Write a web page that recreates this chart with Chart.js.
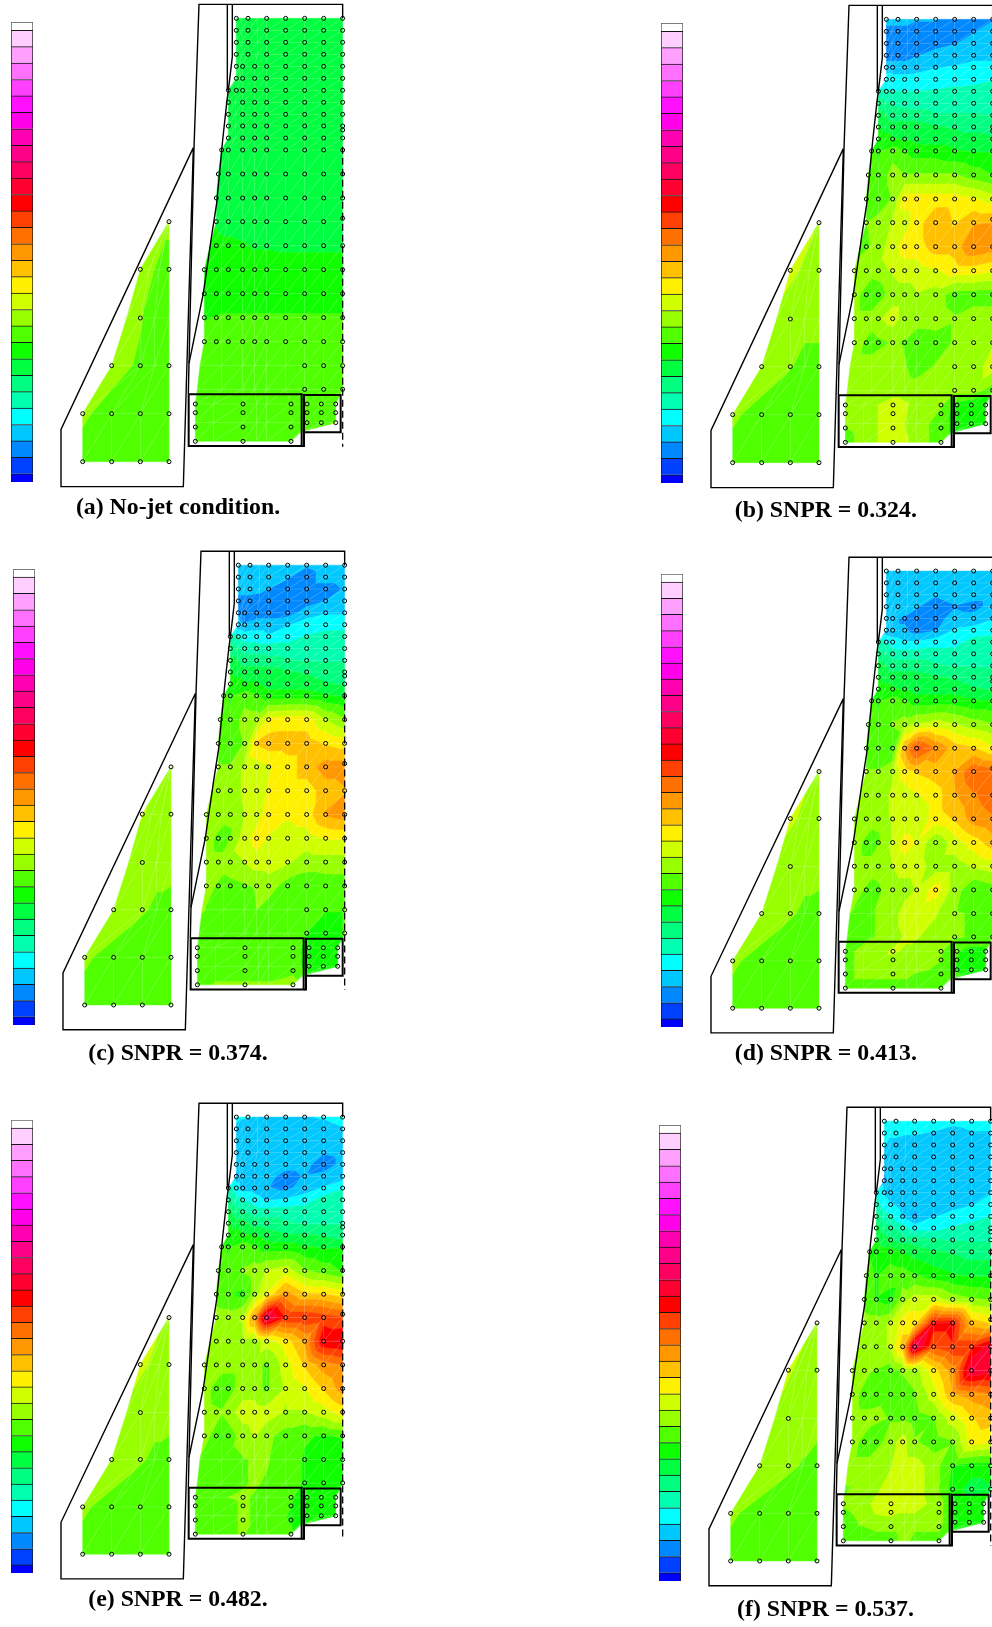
<!DOCTYPE html>
<html lang="en">
<head>
<meta charset="UTF-8">
<title>SNPR contour panels</title>
<script src="https://cdn.jsdelivr.net/npm/chart.js"></script>
<style>
    html, body { margin: 0; padding: 0; background: #fff; overflow: hidden; }
    #page { position: relative; width: 992px; height: 1627px; overflow: hidden; }
    canvas { position: absolute; }
    .cap { position: absolute; width: 340px; margin-left: -170px; text-align: center; white-space: nowrap;
           font: bold 23.8px "Liberation Serif", serif; color: #000; line-height: 26px; margin-top: -13px; }
</style>
</head>
<body>
<div id="page"></div>
<script>
// colour bands, bottom of the colour bar first
const bandColors = ['#0000ff','#0040ff','#0088ff','#00c8ff','#00ffff','#00ffb0','#00ff80','#00ff40','#10ff00','#50ff00',
    '#98ff00','#d0ff00','#fff000','#ffc000','#ff9800','#ff7000','#ff4000','#ff0000','#ff0030','#ff0060','#ff0088',
    '#ff00b0','#ff00e8','#ff10ff','#ff40ff','#ff70ff','#ffa0ff','#ffd0ff','#ffffff'];
const bandSizes = [0.5,1,1,1,1,1,1,1,1,1,1,1,1,1,1,1,1,1,1,1,1,1,1,1,1,1,1,1,0.5];

// measurement holes
const topCols = [709,744,800,857,914,971,1028];
const midA = [709,728,764,800,857,914,971,1028];
const midB = [685,728,764,800,857,914,971,1028];
const holeRows = [
    [55,topCols],[91,topCols],[127,topCols],[163,topCols],[199,midA],[235,midA],
    [271,[685,709,728,764,800,857,914,971,1028]],[307,midB],[343,midB],[378,midB],[414,midB],
    [450,[665,685,728,764,800,857,914,971,1028]],[522,[655,685,728,764,800,857,914,971,1028]],
    [594,[649,685,728,764,800,857,914,971,1028]],[665,[649,685,728,764,800,857,914,971]],
    [737,[649,685,728,764,800,857,914,971,1028]],
    [809,[613,649,685,728,764,800,857,914,971,1028]],[881,[613,649,685,728,764,800,857,914,971,1028]],
    [953,[613,649,685,728,764,800,857,914,971,1028]],[1025,[613,649,685,728,764,800,857,914,971,1028]],
    [1097,[914,971,1028]],[1168,[914,971,1028]],[390,[1028]],[655,[1028]],
    [1212,[586,729,873,921,964,1007]],[1238,[586,729,873,921,964,1007]],[1268,[921,964,1007]],
    [1281,[586,729,873]],[1324,[586,729,873]],
    [665,[507]],[808,[421,507]],[954,[421]],[1097,[335,421,507]],[1241,[248,335,421,507]],[1385,[248,335,421,507]]
];

// mesh of the main field
const c5 = [800,857,914,971,1028];
const mainX = [
    [709,726,744,772,...c5],[709,726,744,772,...c5],[709,726,744,772,...c5],[709,726,744,772,...c5],
    [709,718,728,764,...c5],[709,718,728,764,...c5],[685,709,728,764,...c5],
    [685,706,728,764,...c5],[685,706,728,764,...c5],[685,706,728,764,...c5],[685,706,728,764,...c5],
    [665,685,728,764,...c5],[655,685,728,764,...c5],[649,685,728,764,...c5],[649,685,728,764,...c5],
    [630,665,728,764,...c5],[613,665,728,764,...c5],[613,665,728,764,...c5],[613,665,728,764,...c5],
    [613,665,728,764,...c5],[600,665,728,764,...c5],[592,665,728,764,...c5],
    [586,640,729,770,800,873,921,964,1007],[586,640,729,770,800,873,921,964,1007],
    [586,640,729,770,800,873,900,921,985]
];
const mainYs = [55,91,127,163,199,235,271,307,343,378,414,450,522,594,665,737,809,881,953,1025,1097,1168,1212,1268,1324];
const mainLastY = [1324,1324,1324,1324,1324,1324,1298,1290,1268];

// mesh of the wing field
const wingX = [[507,507,507,507],[421,448,478,507],[380,421,464,507],[335,421,464,507],[248,335,421,507],[248,335,421,507]];
const wingYs = [665,808,954,1097,1241,1385];

// band level at each mesh node
const mainA = [
    [7,7,7,7,7,7,7,7,7],[7,7,7,7,7,7,7,7,7],[7,7,7,7,7,7,7,7,7],[7,7,7,7,7,7,7,7,7],
    [7,7,7,7,7,7,7,7,7],[7,7,7,7,7,7,7,7,7],[7,7,7,7,7,7,7,7,7],[7,7,7,7,7,7,7,7,7],
    [7,7,7,7,7,7,7,7,7],[7,7,7,7,7,7,7,7,7],[7,7,7,7,7,7,7,7,7],[7,7,7,7,7,7,7,7,7],
    [7,7,7,7,7,7,7,7,7],[7,7,7,7,7,7,7,7,7],[7.4,7,7,7,7,7,7,7,7],
    [8,7.8,7.6,7.4,7.4,7.3,7.3,7.3,7.3],[8,8,8,8,8,8,8,8,8],[8,8,8,8,8,8,8,8,8],
    [8.4,8.6,8.6,8.6,8.6,8.6,8.6,8.6,8.6],[9,9,9,9,9,9,9,9,9],[9,9,9,9,9,9,9,9,9],[9,9,9,9,9,9,9,9,9],
    [9,9,9,9,9,9,9,9,9],[9,9,9,9,9,9,9,9,9.6],[9,9,9,9,9,9,9,9,9.4]
];
const mainB = [
    [3,3,3,3,2.6,2.6,2,2,2.4],[2,2,2,2,2,2,2,2.4,3],[2,2,2,2,2,2,2.4,3,3],[2,2,2,2,2.4,3,3,3,3],
    [3,3,3,3,3,3.4,3.6,4,4],[4,4,3.8,3.8,4,4,4,4,4.4],[4.6,4.6,4.5,4.5,4.5,4.6,4.8,5,5],
    [6,5.6,5.4,5.2,5,5,5,5,5],[7,6.6,6,6,6,5.6,5.6,5.6,5.5],[7.6,7,7,7,7,6.6,6.4,6,6],
    [8,8,7.6,7.4,7.2,7,7,7,6.6],[8.6,8.4,9,8.5,8,8,7.6,7.4,7.4],[9,8.6,10,9.5,9.6,9.6,9.6,9,8.5],
    [9,8.6,9.6,12,12,12,12,11.6,11],[9.5,10,10.6,11,12,13.4,12.4,13.4,13.5],[9,9.6,11,12,12,13,13,14.4,14],
    [10,10,10.6,11,11,11.4,12,12,11.6],[10,8.4,10,10,10.4,10,9,9,9],[10,10,11,10,10,10,9.6,10,10],
    [10,9,9.6,9.4,8.8,9,9.6,10.4,10.4],[10,10,10,9.6,9,9.6,10,10,11],[9.6,10,10,10,10,10,10,10,9],
    [9.6,10,11,10.6,10,9.6,8,7.6,8],[9.6,10,11,10.4,10,9,8,7.6,8],[9,10,11,10.6,10,9,8.4,8,8]
];
const mainC = [
    [3,3,3,3,3,3,2.6,3,3],[3,3,3,3,3,2.6,2,3,3],[3,3,3,2.8,2.5,2,2,2,2.6],[2,2,2,2,1.6,2,2,2.5,3],
    [2.4,2,2,2,2,2,3,3.4,3.4],[3,2.6,2.6,3,3,3.4,4,4,4],[5,4.6,4,4,3.6,4,4.6,5,5],
    [6,5.6,5,5,5,5,5,5,5.4],[7,6.6,6,6,5.8,5.6,5.4,5.4,5.4],[7.6,7,7,7,7,6.6,6.4,6,6],
    [8,8,7.6,7.6,7,7,7,6.6,6.4],[8.6,8.4,9,8.6,8,8,8,7.6,7.4],[9,8.6,10,10,11.8,12,12,10.5,9.6],
    [9,8.6,9.6,12.6,13,13,13,12.4,12],[9.6,9.6,10.6,11,11.4,12,13,14,14],[10,10,10.6,11,11.6,12,12,13,13.4],
    [10,10,10.5,11,12,11.6,12,13.6,14],[10,8.8,11,12,11.4,11,11,11.6,11.6],[10,10,10.5,11,11,10.6,10,10,10],
    [10,9,9.4,9.6,10,9,8.8,9,9],[9.6,9,9,9.5,9,8.6,8.6,8.6,8.6],[9,9,9,9,9,9,8.5,7.6,8.6],
    [9,9,9,9,9,9,8,8,8],[9,9,9,9,9,9,8,8,8],[9,9.6,9.6,9.6,9.6,10,8.6,8,8.5]
];
const mainD = [
    [3.6,3,3,3,3,3,3,3,3],[3,3,3,3,3,3,3,3,3],[3,3,3,3,3,2.6,3,3,3],[3,3,3,2.8,2.6,2,2.4,2,3],
    [2.6,2.6,2.6,2.4,2,2,3,3,3.4],[2.6,2.6,2.6,2.6,2,2.4,3.6,3.8,4],[5,4.4,4,3.6,3.6,4,4,5,5],
    [6,5.6,5,5,5,5,5,5,5],[7,6.6,6,6,6,5.6,5.4,5.4,5.4],[7.6,7,7,7,7,6.6,6.4,6,6],
    [8,8,7.6,7.4,7,7,7,6.6,6.4],[8.6,8.4,9,8.6,8,8,8,7.6,7.6],[9,8.6,9.6,10,10.6,11,10.6,10,9.6],
    [9,8.6,8.4,13.6,16,14.4,13,12.6,11.6],[9.6,9.6,10.4,12,12.6,13,13.6,15.4,15],[10,10,10.6,11,11.4,12,13.4,14.4,15],
    [10,10,10.6,10.6,10.6,12,12.6,14,14.4],[10,8.8,10.6,12,11.4,9.6,11,12,13],[10,10,10.5,11,11,10,10,10.6,11],
    [10,9,10,10,10.6,12,10,8.6,9],[9.5,9.4,10,11,11,10.6,9.6,9.4,9.4],[9,9.4,10,10.6,10.6,10,9.6,9.4,9.4],
    [9,10,10.6,10.4,10,9.6,8.6,8,8.2],[9,10,10,10,9.6,9.4,8.4,8,8.2],[9,9,9,9,9,9,9,8.4,8.2]
];
const mainE = [
    [4,3.6,3.6,3.4,3.4,3.4,3.4,3.6,4],[3,3,3,3,3,3,3,3,3.4],[3,3,3,3,3,3,3,3,3],[3,3,3,3,3,3,3,2.6,3],
    [3,2.6,3,3,3,3,3,1.6,3],[2.4,2.6,3,3,3,2,2.6,3,3],[5,4,3,3,2.6,2.2,3,3.6,4.4],
    [5.6,5,4.6,4,3.4,3.6,4,5,5],[7,6,5.6,5,5,5,5,5,5],[7.6,7,7,6,6,5.6,5.4,5.4,5.4],
    [8,8,7.6,7.6,7,6.6,6.6,6.4,6],[8.6,8.4,9,8.6,8,8,7.6,7.4,7.4],[9,8.6,9.6,10,10.6,11,9.6,9,8.4],
    [9,8.6,8.2,10,11.6,14,12.6,12.6,12],[10,10,10.6,14,19,16.4,16.4,16,15.6],[10,10,10,10,11,12,13.6,17.4,17.6],
    [10,10,10,10,9.2,11,12.6,14,14.6],[10,8.6,10,10,9.2,10.6,11.4,12.6,14],[10,9.6,11,11,11,10.4,10.4,11,12],
    [10,8.4,10,10.6,9.8,9,8.6,8.4,8.6],[9.4,8.8,9.4,9.6,9.6,9,8.4,7.6,7.8],[9,9,9.4,9.6,9.4,9,8.4,7.8,7.6],
    [9,9.4,9.6,9.4,9,8.6,8,8,8],[9,9,9.6,9.4,9,8.4,8,8.2,8],[9,9,9.6,9,9,8.6,8,8.6,8]
];
const mainF = [
    [4,4,4,4,4,4,3.8,4,4],[4,3.8,3.8,3.6,3.6,3.4,3,3.4,3.4],[3.6,3,3,3,3,3,3,3,3],[3,3,3,3,3,3,3,3,3],
    [3,3,3,3,3,3,3,3,3],[2,3,3,3,3,3,3,3,3],[4.4,3.4,3,3,3,3,3,3,3.4],
    [5,4,3.6,3,2.6,3,3,3.4,4],[6,5,4.6,3.4,2.4,3.4,4,4,4.5],[7,6,5.6,5,4,4,4.6,5,5],
    [7.6,7,6.6,6,6,5.6,5.4,5.4,5.4],[8.4,8,8,7.6,7,6.6,6.4,6,6],[9,8.4,9,9,8.6,8,7.6,7.4,7.4],
    [9,8.4,8,10,11,11,10,9.6,9.4],[10,10,10.6,12,12,17,17,13,12.4],[10,10,10.6,13,19,15.6,16.4,16.4,18],
    [10,9.6,9,9.6,10,12,14,18.6,18],[10,8.6,9,9,9.4,11,13.4,14,14.4],[10,10,9.4,9.4,9,9.4,11,12.4,13],
    [10,8.6,10,11,9.6,9,9.4,12,11.6],[10,10,10.4,11,11,10,8.4,8,8],[9.4,10,11,11,11,10,8,7,7.4],
    [9.6,10,11.6,11,11,10,8,8,7.6],[9,9.6,10,10,10,10,8,8,8],[9,9,9,10,9,9,8.6,8.2,8]
];

const wingA = [[9.8,9.8,9.8,9.8],[10,10,9,9],[10,9.6,9,9],[10,9.3,9,9],[9.7,9,9,9],[9,9,9,9]];
const wingB = [[10.4,10.4,10.4,10.4],[11,10.5,10,10],[10,10,10,10],[10,9.6,9,9],[9.7,9,9,9],[9,9,9,9]];
const wingC = [[10,10,10,10],[10.6,10,10,10],[10,10,10,10],[10,9.7,9.2,9],[9.7,9,9,9],[9,9,9,9]];
const wingD = [[10.2,10.2,10.2,10.2],[10.8,10.4,10,10],[10,10,10,10],[10,9.7,9.2,9],[9.7,9,9,9],[9,9,9,9]];
const wingE = [[10.2,10.2,10.2,10.2],[11,10.4,10,10],[10,10,10,10],[10,9.7,9.2,9],[9.7,9,9,9],[9,9,9,9]];
const wingF = [[10,10,10,10],[11,10,10,10],[10,10,10,10],[10,9.8,9.4,9],[9.7,9,9,9],[9,9,9,9]];

// sheet outlines
const thinLines = [
    [[580,443],[183,1288],[183,1460],[550,1460],[580,443]],
    [[565,1183],[567,1090],[582,443],[597,13],[1028,13],[1028,55]],
    [[682,13],[682,270]],
    [[697,13],[697,170],[690,230],[680,310],[668,420],[650,610],[636,700],[610,880],[567,1090]]
];
const thickLines = [
    [[566,1183],[905,1183],[905,1338],[566,1338],[566,1183]],
    [[905,1338],[912,1338],[912,1185],[1022,1185],[1022,1297],[912,1297]]
];
const dashedLines = [[[1028,440],[1028,1340]]];

const captions = ['(a) No-jet condition.','(b) SNPR = 0.324.','(c) SNPR = 0.374.','(d) SNPR = 0.413.','(e) SNPR = 0.482.','(f) SNPR = 0.537.'];
const panelLeft = [0,649.7,1.5,650,0.4,648.3];
const panelTop = [0,1.3,547.4,553,1098.7,1103];
const panelScale = [1,0.9998,0.9921,0.9855,0.9853,0.9917];
const captionX = [178,825.8,178,825.8,178,825.5];
const captionY = [506,509,1051.7,1052.3,1598.3,1608.3];
const mainFields = [mainA,mainB,mainC,mainD,mainE,mainF];
const wingFields = [wingA,wingB,wingC,wingD,wingE,wingF];

function toPoints(line) {
    return line.map(p => ({ x: p[0], y: p[1] }));
}

// keep the part of a polygon where level is on the wanted side of the limit
function clipLevel(poly, limit, keepAbove) {
    const out = [];
    for (let i = 0; i < poly.length; i++) {
        const a = poly[i], b = poly[(i + 1) % poly.length];
        const aIn = keepAbove ? a[2] >= limit : a[2] <= limit;
        const bIn = keepAbove ? b[2] >= limit : b[2] <= limit;
        if (aIn) out.push(a);
        if (aIn !== bIn) {
            const t = (limit - a[2]) / (b[2] - a[2]);
            out.push([a[0] + (b[0] - a[0]) * t, a[1] + (b[1] - a[1]) * t, limit]);
        }
    }
    return out;
}

function drawTriangle(ctx, tri) {
    const levels = tri.map(p => p[2]);
    const lo = Math.round(Math.min(...levels)), hi = Math.round(Math.max(...levels));
    for (let k = lo; k <= hi; k++) {
        let poly = clipLevel(tri, k - 0.5, true);
        poly = clipLevel(poly, k + 0.5, false);
        if (poly.length < 3) continue;
        ctx.beginPath();
        poly.forEach((p, i) => i ? ctx.lineTo(p[0], p[1]) : ctx.moveTo(p[0], p[1]));
        ctx.closePath();
        ctx.fillStyle = bandColors[k];
        ctx.strokeStyle = bandColors[k];
        ctx.lineWidth = 0.5;
        ctx.fill();
        ctx.stroke();
    }
}

const contourPlugin = {
    id: 'contour',
    beforeDatasetsDraw(chart, args, opts) {
        const ctx = chart.ctx, sx = chart.scales.x, sy = chart.scales.y;
        ctx.save();
        opts.fields.forEach(f => {
            const node = (r, c) => [sx.getPixelForValue(f.xs[r][c]), sy.getPixelForValue(f.ys(r, c)), f.levels[r][c]];
            const tris = [];
            for (let r = 0; r < f.levels.length - 1; r++) {
                for (let c = 0; c < f.levels[r].length - 1; c++) {
                    tris.push([node(r, c), node(r, c + 1), node(r + 1, c)]);
                    tris.push([node(r, c + 1), node(r + 1, c + 1), node(r + 1, c)]);
                }
            }
            tris.forEach(t => drawTriangle(ctx, t));
            // thin mesh lines show through the fill
            ctx.strokeStyle = 'rgba(255,255,255,0.14)';
            ctx.lineWidth = 0.6;
            tris.forEach(t => {
                ctx.beginPath();
                ctx.moveTo(t[0][0], t[0][1]);
                ctx.lineTo(t[1][0], t[1][1]);
                ctx.lineTo(t[2][0], t[2][1]);
                ctx.closePath();
                ctx.stroke();
            });
        });
        ctx.restore();
    }
};

function addCanvas(left, top, w, h) {
    const cv = document.createElement('canvas');
    cv.width = w;
    cv.height = h;
    cv.style.left = left + 'px';
    cv.style.top = top + 'px';
    cv.style.width = w + 'px';
    cv.style.height = h + 'px';
    document.getElementById('page').appendChild(cv);
    return cv;
}

function lineSet(line, width, dash) {
    return { data: toPoints(line), showLine: true, borderColor: '#000', borderWidth: width, borderDash: dash,
        pointRadius: 0, fill: false, tension: 0, clip: false };
}

function drawPanel(i) {
    const scale = panelScale[i];
    const holes = [];
    holeRows.forEach(row => row[1].forEach(x => holes.push({ x: x, y: row[0] })));

    const datasets = [];
    thinLines.forEach(l => datasets.push(lineSet(l, 1.4, [])));
    thickLines.forEach(l => datasets.push(lineSet(l, 2, [])));
    dashedLines.forEach(l => datasets.push(lineSet(l, 1.3, [7, 4])));
    datasets.push({ data: holes, showLine: false, pointRadius: 2, pointBorderWidth: 1, pointBorderColor: '#000',
        pointBackgroundColor: 'rgba(0,0,0,0)', clip: false });

    new Chart(addCanvas(panelLeft[i], panelTop[i], 350, Math.round(500 * scale)), {
        type: 'scatter',
        data: { datasets: datasets },
        options: {
            responsive: false,
            animation: false,
            layout: { padding: 0, autoPadding: false },
            scales: {
                x: { type: 'linear', display: false, min: 0, max: 1050 },
                y: { type: 'linear', display: false, min: 0, max: 1500, reverse: true }
            },
            plugins: {
                legend: { display: false },
                tooltip: { enabled: false },
                contour: { fields: [
                    { xs: mainX, levels: mainFields[i], ys: (r, c) => r === mainYs.length - 1 ? mainLastY[c] : mainYs[r] },
                    { xs: wingX, levels: wingFields[i], ys: (r, c) => wingYs[r] }
                ] }
            }
        },
        plugins: [contourPlugin]
    });

    // colour bar
    new Chart(addCanvas(panelLeft[i] + 11, panelTop[i] + 21.7 * scale, 22, Math.round(460 * scale)), {
        type: 'bar',
        data: {
            labels: ['level'],
            datasets: bandColors.map((c, k) => ({
                data: [bandSizes[k]], backgroundColor: c, borderColor: k === bandColors.length - 1 ? '#555' : '#151515',
                borderWidth: 1, barPercentage: 1, categoryPercentage: 1
            }))
        },
        options: {
            responsive: false,
            animation: false,
            layout: { padding: 0, autoPadding: false },
            scales: {
                x: { display: false, stacked: true },
                y: { display: false, stacked: true, min: 0, max: 28 }
            },
            plugins: { legend: { display: false }, tooltip: { enabled: false } }
        }
    });

    const cap = document.createElement('div');
    cap.className = 'cap';
    cap.textContent = captions[i];
    cap.style.left = captionX[i] + 'px';
    cap.style.top = captionY[i] + 'px';
    document.getElementById('page').appendChild(cap);
}

captions.forEach((c, i) => drawPanel(i));
</script>
</body>
</html>
